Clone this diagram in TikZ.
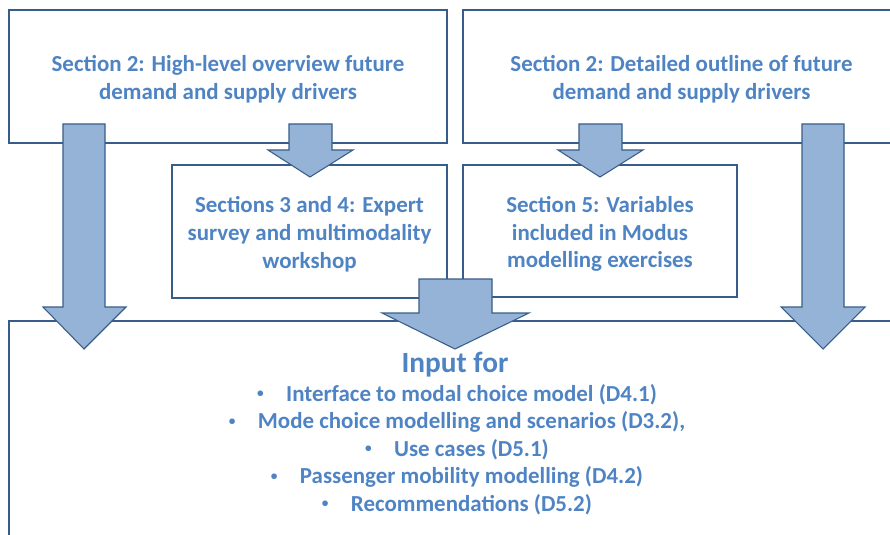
\documentclass[tikz,border=0pt]{standalone}
\usepackage{fontspec}
\setmainfont{Carlito}
\definecolor{txtblue}{HTML}{4F84C4}
\definecolor{arrowfill}{HTML}{95B3D7}
\definecolor{arrowline}{HTML}{385D8A}
\definecolor{boxline}{HTML}{385D8A}
\newcommand{\blt}{\makebox[21.75pt][l]{\raisebox{2.6pt}{\fontsize{10}{10}\selectfont •}}}
\begin{document}
\begin{tikzpicture}[x=0.75pt,y=-0.75pt,
  box/.style={draw=boxline,line width=0.9pt,fill=white,inner sep=0pt},
  boxtext/.style={text=txtblue,font=\bfseries\fontsize{17.2}{20.8}\selectfont,align=center,inner sep=0pt,yshift=-2.2pt},
  blockarrow/.style={draw=arrowline,line width=0.8pt,fill=arrowfill,line join=miter},
  bodytext/.style={text=txtblue,font=\bfseries\fontsize{17.2}{20.6}\selectfont,inner sep=0pt},
  bigtext/.style={text=txtblue,font=\bfseries\fontsize{22}{26}\selectfont,inner sep=0pt}]
\useasboundingbox (0,0) rectangle (890,535);
\clip (0,0) rectangle (890,535);
% boxes
\node[box,minimum width={438*0.75pt},minimum height={133*0.75pt}] (s2a) at (228,76.5) {};
\node[box,minimum width={437*0.75pt},minimum height={133*0.75pt}] (s2b) at (681.5,76.5) {};
\node[box,minimum width={275*0.75pt},minimum height={133*0.75pt}] (s34) at (309.5,231.5) {};
\node[box,minimum width={274*0.75pt},minimum height={132*0.75pt}] (s5) at (600,231) {};
\node[box,minimum width={896*0.75pt},minimum height={260*0.75pt}] (inp) at (457,451) {};
% box texts
\node[boxtext] (s2atxt) at (s2a.center) {Section 2: High-level overview future\\demand and supply drivers};
\node[boxtext] (s2btxt) at (s2b.center) {Section 2: Detailed outline of future\\demand and supply drivers};
\node[boxtext] (s34txt) at (s34.center) {Sections 3 and 4: Expert\\survey and multimodality\\workshop};
\node[boxtext] (s5txt) at (s5.center) {Section 5: Variables\\included in Modus\\modelling exercises};
% block arrows
\draw[blockarrow] (63,124) -- (105,124) -- (105,307) -- (126,307) -- (84,349) -- (43,307) -- (63,307) -- cycle;
\draw[blockarrow] (802,124) -- (844,124) -- (844,307) -- (865,307) -- (823,349) -- (781,307) -- (802,307) -- cycle;
\draw[blockarrow] (289,124) -- (332,124) -- (332,150) -- (353,150) -- (310,177) -- (268,150) -- (289,150) -- cycle;
\draw[blockarrow] (579,124) -- (622,124) -- (622,150) -- (643,150) -- (600,177) -- (558,150) -- (579,150) -- cycle;
\draw[blockarrow] (419,279) -- (492,279) -- (492,313) -- (529,313) -- (455,349) -- (382,313) -- (419,313) -- cycle;
% text of the input box
\node[bigtext,anchor=base] (inputfor) at (455,372) {Input for};
\node[bodytext,anchor=base] (b1) at (457,401) {\blt Interface to modal choice model (D4.1)};
\node[bodytext,anchor=base] (b2) at (457,428.5) {\blt Mode choice modelling and scenarios (D3.2),};
\node[bodytext,anchor=base] (b3) at (457,456) {\blt Use cases (D5.1)};
\node[bodytext,anchor=base] (b4) at (457,483.5) {\blt Passenger mobility modelling (D4.2)};
\node[bodytext,anchor=base] (b5) at (457,511) {\blt Recommendations (D5.2)};
\end{tikzpicture}
\end{document}
